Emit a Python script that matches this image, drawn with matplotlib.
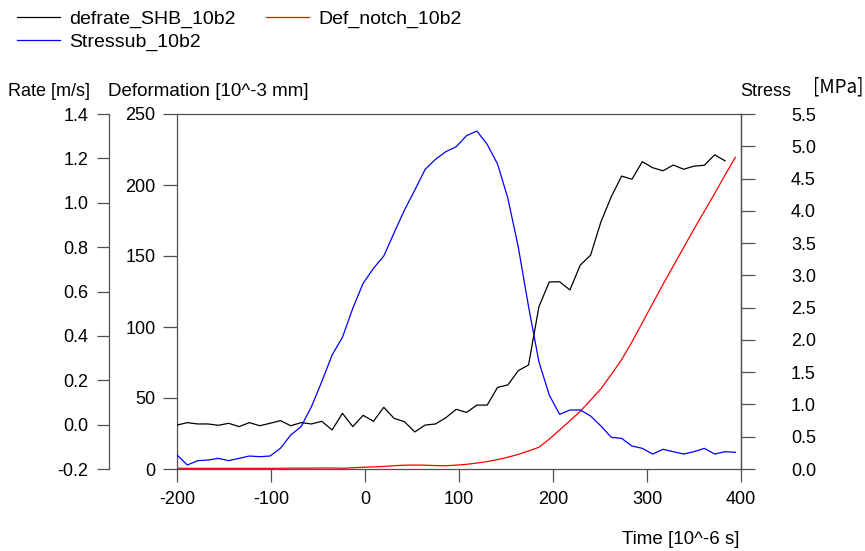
import matplotlib
matplotlib.use("Agg")
import matplotlib.pyplot as plt

plt.rcParams['font.family'] = ['Liberation Sans', 'DejaVu Sans']

# time axis [10^-6 s]
time = [-200, -189, -178, -167, -156, -145, -134, -123, -112, -101,
        -90, -79, -68, -57, -46, -35, -24, -13, -2, 9,
        20, 31, 42, 53, 64, 75, 86, 97, 108, 119,
        130, 141, 152, 163, 174, 185, 196, 207, 218, 229,
        240, 251, 262, 273, 284, 295, 306, 317, 328, 339,
        350, 361, 372, 383, 394]

# defrate_SHB_10b2 [m/s] (one sample shorter)
defrate = [-0.002, 0.009, 0.003, 0.003, -0.003, 0.006, -0.009, 0.009, -0.005, 0.006,
           0.018, -0.005, 0.009, 0.003, 0.015, -0.024, 0.051, -0.009, 0.042, 0.015,
           0.078, 0.028, 0.013, -0.033, -0.002, 0.003, 0.031, 0.069, 0.055, 0.088,
           0.088, 0.168, 0.179, 0.243, 0.269, 0.531, 0.643, 0.644, 0.607, 0.719,
           0.764, 0.914, 1.027, 1.120, 1.106, 1.185, 1.158, 1.144, 1.170, 1.151,
           1.165, 1.169, 1.216, 1.189]

# Def_notch_10b2 [10^-3 mm]
def_notch = [0.5, 0.5, 0.5, 0.5, 0.5, 0.5, 0.5, 0.5, 0.5, 0.5,
             0.5, 0.6, 0.6, 0.6, 0.7, 0.7, 0.5, 0.9, 1.2, 1.5,
             1.8, 2.3, 2.7, 2.8, 2.7, 2.4, 2.3, 2.7, 3.3, 4.2,
             5.2, 6.6, 8.3, 10.3, 12.7, 15.3, 21.0, 27.5, 34.0, 40.6,
             48.5, 56.5, 66.5, 77.0, 89.5, 103.0, 116.5, 130.0, 143.0, 156.0,
             169.0, 181.5, 194.0, 207.0, 219.5]

# Stressub_10b2 [MPa]
stress = [0.217, 0.062, 0.129, 0.139, 0.165, 0.129, 0.165, 0.201, 0.191, 0.201,
          0.320, 0.527, 0.656, 0.965, 1.353, 1.766, 2.040, 2.489, 2.877, 3.109,
          3.300, 3.661, 4.012, 4.322, 4.643, 4.798, 4.916, 4.993, 5.164, 5.236,
          5.030, 4.725, 4.193, 3.444, 2.515, 1.663, 1.146, 0.847, 0.914, 0.914,
          0.821, 0.666, 0.491, 0.475, 0.356, 0.320, 0.232, 0.305, 0.268, 0.232,
          0.268, 0.320, 0.232, 0.268, 0.259]

x_ticks = [-200, -100, 0, 100, 200, 300, 400]
def_ticks = [0, 50, 100, 150, 200, 250]
rate_ticks = [-0.2, 0.0, 0.2, 0.4, 0.6, 0.8, 1.0, 1.2, 1.4]
stress_ticks = [0.0, 0.5, 1.0, 1.5, 2.0, 2.5, 3.0, 3.5, 4.0, 4.5, 5.0, 5.5]

W, H = 865, 551
fig = plt.figure(figsize=(W / 100, H / 100), dpi=100)
L, R, T, B = 177, 741, 114, 469
ax = fig.add_axes([L / W, 1 - B / H, (R - L) / W, (B - T) / H])
ax_r = ax.twinx()
ax_s = ax.twinx()

gray = '#505050'
fs = 13
lw = 0.9

# deformation (main axis)
l_red, = ax.plot(time, def_notch, color='#ff0000', lw=lw, label='Def_notch_10b2')
ax.set_xlim(-200, 400)
ax.set_ylim(0, 250)
ax.set_xticks(x_ticks)
ax.set_xticklabels([f"{v:d}" for v in x_ticks])
ax.set_yticks(def_ticks)
ax.set_yticklabels([f"{v:d}" for v in def_ticks])
ax.tick_params(axis='x', direction='out', length=9.5, width=0.9, color=gray,
               labelsize=fs, pad=6)
ax.tick_params(axis='y', direction='out', length=10, width=0.9, color=gray,
               labelsize=fs, pad=5.5)
for s in ax.spines.values():
    s.set_color(gray)
    s.set_linewidth(0.9)

# rate axis (offset left)
l_black, = ax_r.plot(time[:len(defrate)], defrate, color='#000000', lw=lw,
                     label='defrate_SHB_10b2')
ax_r.set_ylim(-0.2, 1.4)
ax_r.set_yticks(rate_ticks)
ax_r.set_yticklabels([f"{v:.1f}" for v in rate_ticks])
ax_r.yaxis.set_ticks_position('left')
ax_r.yaxis.set_label_position('left')
ax_r.spines['left'].set_position(('outward', 68 * 0.72))
ax_r.spines['left'].set_visible(True)
ax_r.spines['left'].set_color(gray)
ax_r.spines['left'].set_linewidth(0.9)
for k in ('right', 'top', 'bottom'):
    ax_r.spines[k].set_visible(False)
ax_r.tick_params(axis='y', direction='out', length=9, width=0.9, color=gray,
                 labelsize=fs, pad=6)

# stress axis (right)
l_blue, = ax_s.plot(time, stress, color='#0000ff', lw=lw, label='Stressub_10b2')
ax_s.set_ylim(0, 5.5)
ax_s.set_yticks(stress_ticks)
ax_s.set_yticklabels([f"{v:.1f}" for v in stress_ticks])
for k in ('left', 'top', 'bottom'):
    ax_s.spines[k].set_visible(False)
ax_s.spines['right'].set_color(gray)
ax_s.spines['right'].set_linewidth(0.9)
ax_s.tick_params(axis='y', direction='out', length=10, width=0.9, color=gray,
                 labelsize=fs, pad=26)

# axis titles
fig.text(8 / W, 1 - 91 / H, 'Rate [m/s]', fontsize=fs, ha='left', va='center')
fig.text(108 / W, 1 - 91 / H, 'Deformation [10^-3 mm]', fontsize=13.5, ha='left', va='center')
fig.text(740 / W, 1 - 91 / H, 'Stress', fontsize=fs, ha='left', va='center')
fig.text(813 / W, 1 - 87 / H, '[MPa]', fontsize=13.5, ha='left', va='center',
         family=['Noto Sans CJK SC', 'DejaVu Sans'])
fig.text(740 / W, 1 - 540 / H, 'Time [10^-6 s]', fontsize=13.5, ha='right', va='center')

# legend
fig.legend(handles=[l_black, l_blue, l_red], ncol=2, loc='upper left',
           bbox_to_anchor=(17 / W, 1 - 10.5 / H), frameon=False, fontsize=14,
           handlelength=2.2, handletextpad=0.5, columnspacing=1.55,
           labelspacing=0.25, borderpad=0, borderaxespad=0)

fig.savefig('out.png', dpi=100)
